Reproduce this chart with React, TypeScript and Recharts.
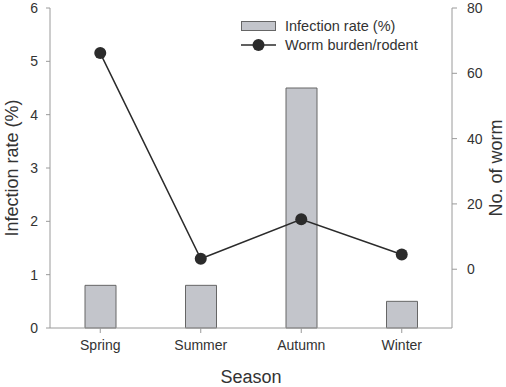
import { ComposedChart, Bar, Line, XAxis, YAxis } from "recharts";

const seasons = ["Spring", "Summer", "Autumn", "Winter"];
const infectionRate = [0.8, 0.8, 4.5, 0.5];
const wormBurden = [66.2, 3.2, 15.3, 4.5];
const leftTicks = [0, 1, 2, 3, 4, 5, 6];
const rightTicks = [0, 20, 40, 60, 80];

const data = seasons.map((season, i) => ({
  season,
  rate: infectionRate[i],
  worm: wormBurden[i],
}));

const FONT = "'Liberation Sans', Arial, sans-serif";
const AXIS = "#9a9a9a";
const TEXT = "#333";

function LegendBox() {
  return (
    <div style={{ position: "absolute", left: 241, top: 16, fontFamily: FONT, fontSize: 14.5, color: TEXT }}>
      <div style={{ display: "flex", alignItems: "center", height: 19 }}>
        <svg width={36} height={12} style={{ marginRight: 8 }}>
          <rect x={0.5} y={1.5} width={34} height={9} fill="#c3c5cb" stroke="#666" />
        </svg>
        <span>Infection rate (%)</span>
      </div>
      <div style={{ display: "flex", alignItems: "center", height: 19 }}>
        <svg width={36} height={14} style={{ marginRight: 8 }}>
          <line x1={0} y1={7} x2={35} y2={7} stroke="#2b2b2b" strokeWidth={1.5} />
          <circle cx={17.5} cy={7} r={6} fill="#2b2b2b" />
        </svg>
        <span>Worm burden/rodent</span>
      </div>
    </div>
  );
}

export default function App() {
  return (
    <div style={{ position: "absolute", left: 0, top: 0, width: 506, height: 387, background: "white" }}>
      <ComposedChart
        width={506}
        height={387}
        data={data}
        margin={{ top: 8, right: 0, bottom: 0, left: 0 }}
        barCategoryGap={0}
      >
        <XAxis
          dataKey="season"
          height={59}
          stroke={AXIS}
          tick={{ fill: TEXT, fontSize: 14, fontFamily: FONT }}
          tickSize={5}
          tickMargin={7}
          label={{ value: "Season", position: "insideBottom", offset: 4, fill: TEXT, fontSize: 18, fontFamily: FONT }}
        />
        <YAxis
          yAxisId="left"
          orientation="left"
          width={50}
          domain={[0, 6]}
          ticks={leftTicks}
          stroke={AXIS}
          tick={{ fill: TEXT, fontSize: 14, fontFamily: FONT }}
          tickSize={4}
          tickMargin={8}
          label={{ value: "Infection rate (%)", angle: -90, position: "insideLeft", offset: 12, fill: TEXT, fontSize: 18, fontFamily: FONT, style: { textAnchor: "middle" } }}
        />
        <YAxis
          yAxisId="right"
          orientation="right"
          width={54}
          domain={[-18, 80]}
          ticks={rightTicks}
          allowDataOverflow
          stroke={AXIS}
          tick={{ fill: TEXT, fontSize: 14, fontFamily: FONT, textAnchor: "start" }}
          tickSize={5}
          tickMargin={10}
          label={{ value: "No. of worm", angle: -90, position: "insideRight", offset: 10, fill: TEXT, fontSize: 18, fontFamily: FONT, style: { textAnchor: "middle" } }}
        />
        <Bar
          yAxisId="left"
          dataKey="rate"
          barSize={31}
          fill="#c3c5cb"
          stroke="#666"
          isAnimationActive={false}
        />
        <Line
          yAxisId="right"
          dataKey="worm"
          stroke="#2b2b2b"
          strokeWidth={1.5}
          dot={{ r: 6, fill: "#2b2b2b", stroke: "#2b2b2b", strokeWidth: 0 }}
          activeDot={false}
          isAnimationActive={false}
        />
      </ComposedChart>
      <LegendBox />
    </div>
  );
}
